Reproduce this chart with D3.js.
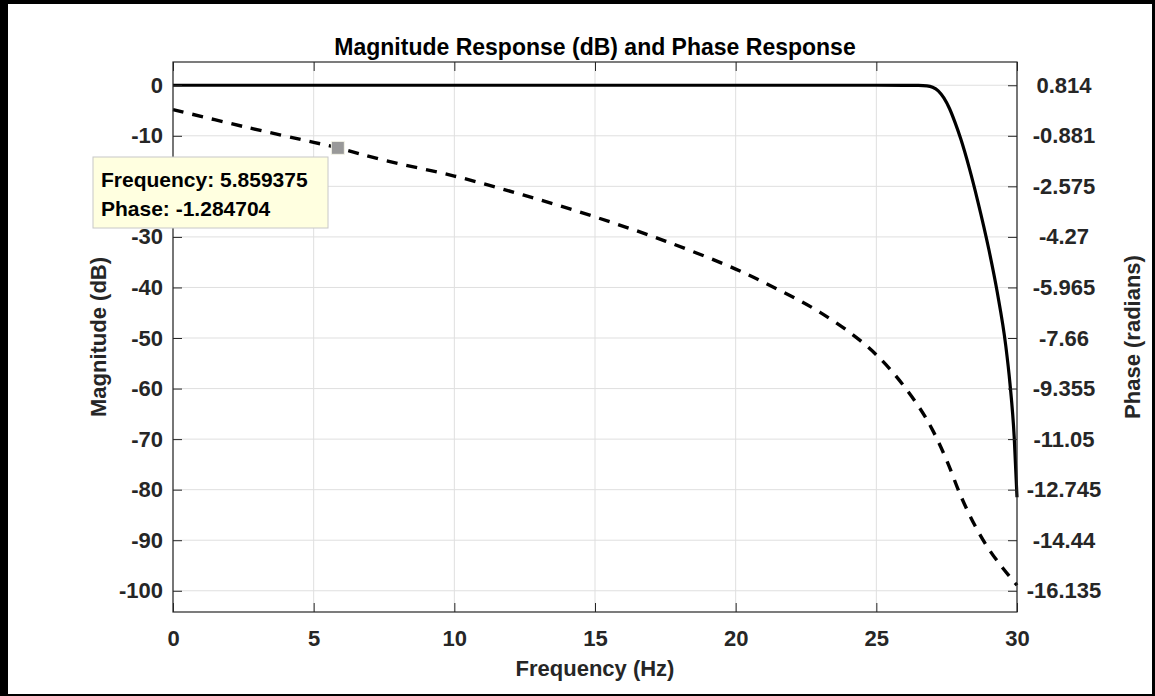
<!DOCTYPE html>
<html>
<head>
<meta charset="utf-8">
<script src="https://cdn.jsdelivr.net/npm/d3@7"></script>
<style>
  body { margin: 0; background: #000; }
  text { font-family: "Liberation Sans", Arial, Helvetica, sans-serif; font-weight: bold; }
</style>
</head>
<body>
<script>
// magnitude response (dB) vs frequency (Hz)
var magFreq = [0, 5, 10, 15, 20, 25, 26, 26.5, 26.8, 27.0, 27.2, 27.4, 27.6, 27.8, 28.0, 28.3, 28.6, 29.0, 29.3, 29.6, 29.75, 29.9, 30];
var magDb   = [0, 0, 0, 0, 0, 0, -0.01, -0.03, -0.12, -0.4, -1.1, -2.5, -4.6, -7.4, -10.6, -16.3, -22.8, -32.5, -41.0, -51.5, -59.0, -69.5, -81.5];

// phase response (radians) vs frequency (Hz)
var phaseFreq = [0, 2.5, 5, 5.859375, 7.5, 10, 12.5, 15, 17.5, 20, 21.5, 23, 24.5, 25.5, 26.5, 27, 27.5, 28, 28.5, 29, 29.5, 30];
var phaseRad  = [0, -0.57, -1.10, -1.284704, -1.70, -2.23, -2.88, -3.60, -4.41, -5.35, -6.03, -6.80, -7.80, -8.72, -9.95, -10.75, -11.76, -12.95, -13.94, -14.74, -15.38, -15.95];

// ticks
var freqTicks  = [0, 5, 10, 15, 20, 25, 30];
var magTicks   = [0, -10, -20, -30, -40, -50, -60, -70, -80, -90, -100];
var phaseTicks = [0.814, -0.881, -2.575, -4.27, -5.965, -7.66, -9.355, -11.05, -12.745, -14.44, -16.135];

// data tip
var tipFreq = 5.859375;
var tipPhase = -1.284704;

var W = 1155, H = 696;
// plot box (note: "top" is taken by window.top, so use pl/pr/pt/pb)
var pl = 173, pr = 1017, pt = 62, pb = 612;

var svg = d3.select("body").append("svg")
	.attr("width", W)
	.attr("height", H);

// black frame round the figure
svg.append("rect").attr("width", W).attr("height", H).attr("fill", "#000");
svg.append("rect").attr("x", 8).attr("y", 4).attr("width", W - 11).attr("height", H - 6).attr("fill", "#fff");

var x = d3.scaleLinear().domain([0, 30]).range([pl, pr]);
var y = d3.scaleLinear().domain([-104.2, 4.6]).range([pb, pt]);
// right axis is tied to the left one: 0.814 <-> 0 dB, -16.135 <-> -100 dB
var k = (phaseTicks[0] - phaseTicks[phaseTicks.length - 1]) / 100;
var y2 = d3.scaleLinear()
	.domain([phaseTicks[0] + y.domain()[0] * k, phaseTicks[0] + y.domain()[1] * k])
	.range([pb, pt]);

// grid
var grid = svg.append("g").attr("stroke", "#dfdfdf").attr("stroke-width", 1);
grid.selectAll("line.v").data(freqTicks).enter().append("line")
	.attr("x1", function(d) { return x(d); }).attr("x2", function(d) { return x(d); })
	.attr("y1", pt).attr("y2", pb);
grid.selectAll("line.h").data(magTicks).enter().append("line")
	.attr("y1", function(d) { return y(d); }).attr("y2", function(d) { return y(d); })
	.attr("x1", pl).attr("x2", pr);

// curves
var magLine = d3.line()
	.x(function(d, i) { return x(magFreq[i]); })
	.y(function(d) { return y(d); })
	.curve(d3.curveMonotoneX);
svg.append("path").datum(magDb)
	.attr("d", magLine)
	.attr("fill", "none").attr("stroke", "#000").attr("stroke-width", 3.2);

var phaseLine = d3.line()
	.x(function(d, i) { return x(phaseFreq[i]); })
	.y(function(d) { return y2(d); })
	.curve(d3.curveCatmullRom.alpha(0.5));
svg.append("path").datum(phaseRad)
	.attr("d", phaseLine)
	.attr("fill", "none").attr("stroke", "#000").attr("stroke-width", 3.4)
	.attr("stroke-dasharray", "11,9");

// axes, ticks pointing inward
function styleAxis(g) {
	g.select(".domain").remove();
	g.selectAll(".tick line").attr("stroke", "#262626");
	g.selectAll(".tick text").attr("fill", "#262626").style("font-size", "22px");
}

svg.append("g").attr("transform", "translate(0," + pb + ")")
	.call(d3.axisBottom(x).tickValues(freqTicks).tickSize(-9).tickPadding(18).tickFormat(String))
	.call(styleAxis);
svg.append("g").attr("transform", "translate(0," + pt + ")")
	.call(d3.axisTop(x).tickValues(freqTicks).tickSize(-9).tickFormat(""))
	.call(styleAxis);
svg.append("g").attr("transform", "translate(" + pl + ",0)")
	.call(d3.axisLeft(y).tickValues(magTicks).tickSize(-9).tickPadding(10).tickFormat(String))
	.call(styleAxis);
var ra = svg.append("g").attr("transform", "translate(" + pr + ",0)")
	.call(d3.axisRight(y2).tickValues(phaseTicks).tickSize(-9).tickFormat(String))
	.call(styleAxis);
ra.selectAll(".tick text").attr("text-anchor", "middle").attr("x", 47);

svg.append("rect")
	.attr("x", pl).attr("y", pt)
	.attr("width", pr - pl).attr("height", pb - pt)
	.attr("fill", "none").attr("stroke", "#262626").attr("stroke-width", 1.2);

// titles
svg.append("text").attr("x", (pl + pr) / 2).attr("y", 55)
	.attr("text-anchor", "middle").style("font-size", "23px").attr("fill", "#000")
	.text("Magnitude Response (dB) and Phase Response");
svg.append("text").attr("x", (pl + pr) / 2).attr("y", 676)
	.attr("text-anchor", "middle").style("font-size", "22px").attr("fill", "#262626")
	.text("Frequency (Hz)");
svg.append("text").attr("transform", "translate(106," + ((pt + pb) / 2) + ") rotate(-90)")
	.attr("text-anchor", "middle").style("font-size", "22px").attr("fill", "#262626")
	.text("Magnitude (dB)");
svg.append("text").attr("transform", "translate(1140," + ((pt + pb) / 2) + ") rotate(-90)")
	.attr("text-anchor", "middle").style("font-size", "22px").attr("fill", "#262626")
	.text("Phase (radians)");

// data tip
var tip = svg.append("g");
tip.append("rect")
	.attr("x", 93).attr("y", 157).attr("width", 235).attr("height", 71)
	.attr("fill", "#ffffe0").attr("stroke", "#c8c8c8").attr("stroke-width", 1);
tip.append("text").attr("x", 101).attr("y", 187).style("font-size", "21px").attr("fill", "#000")
	.text("Frequency: " + tipFreq);
tip.append("text").attr("x", 101).attr("y", 216).style("font-size", "21px").attr("fill", "#000")
	.text("Phase: " + tipPhase);
tip.append("rect")
	.attr("x", x(tipFreq) - 6.5).attr("y", y2(tipPhase) - 6.5)
	.attr("width", 13).attr("height", 13)
	.attr("fill", "#999").attr("stroke", "#f4f4e8").attr("stroke-width", 1);
</script>
</body>
</html>
